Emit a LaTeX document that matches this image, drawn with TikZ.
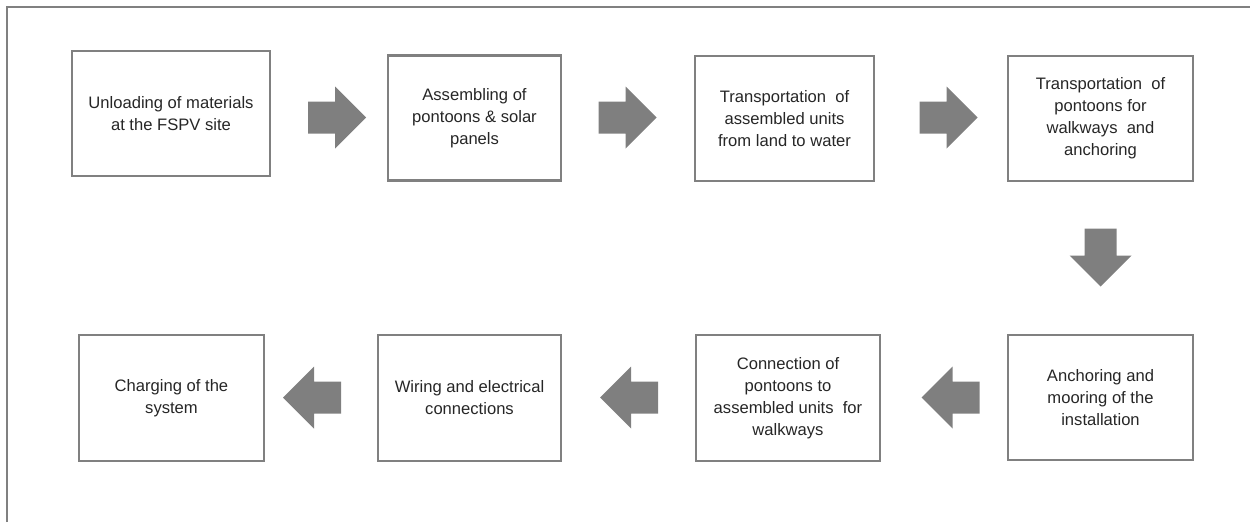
\documentclass[tikz,border=0pt]{standalone}
\usepackage{fontspec}
\setmainfont{Liberation Sans}
\usetikzlibrary{shapes.arrows}

\definecolor{framegray}{HTML}{808080}
\definecolor{arrowgray}{HTML}{7F7F7F}
\definecolor{textgray}{HTML}{262626}

\begin{document}
\begin{tikzpicture}
  [x=1pt,y=-1pt,
   every node/.style={font=\fontsize{16.6}{22}\selectfont},
   stepbox/.style={draw=framegray,line width=2.5pt,minimum height=125pt,minimum width=185pt,align=center,inner sep=0pt,text=textgray},
   blockarrow/.style={single arrow,fill=arrowgray,draw=none,minimum height=58pt,inner sep=15.8pt,single arrow head extend=15pt}]
  \useasboundingbox (0,0) rectangle (1250,522);
  \draw[framegray,line width=2pt] (7,522) -- (7,7) -- (1250,7);
  % first row
  \node[stepbox,minimum width=198pt] (s1) at (171,113.5) {Unloading of materials\\at the FSPV site};
  \node[stepbox,minimum width=173pt] (s2) at (474.5,118) {Assembling of\\pontoons \& solar\\panels};
  \node[stepbox,minimum width=179pt] (s3) at (784.5,118.5) {Transportation\ \ of\\assembled units\\from land to water};
  \node[stepbox] (s4) at (1100.5,118.5) {Transportation\ \ of\\pontoons for\\walkways\ \ and\\anchoring};
  % second row
  \node[stepbox] (s5) at (1100.5,397.5) {Anchoring and\\mooring of the\\installation};
  \node[stepbox,minimum width=184pt,minimum height=126pt] (s6) at (788,398) {Connection of\\pontoons to\\assembled units\ \ for\\walkways};
  \node[stepbox,minimum width=183pt,minimum height=126pt] (s7) at (469.5,398) {Wiring and electrical\\connections};
  \node[stepbox,minimum height=126pt] (s8) at (171.5,398) {Charging of the\\system};
  % block arrows
  \node[blockarrow] (a12) at (329,117.5) {};
  \node[blockarrow] (a23) at (619.5,117.5) {};
  \node[blockarrow] (a34) at (940.5,117.5) {};
  \node[blockarrow,shape border rotate=270] (a45) at (1100.5,249.5) {};
  \node[blockarrow,shape border rotate=180] (a56) at (958.5,397.5) {};
  \node[blockarrow,shape border rotate=180] (a67) at (637,397.5) {};
  \node[blockarrow,shape border rotate=180] (a78) at (320,397.5) {};
\end{tikzpicture}
\end{document}
